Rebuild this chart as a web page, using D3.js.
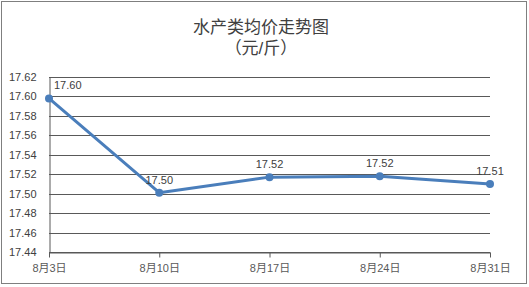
<!DOCTYPE html>
<html>
<head>
<meta charset="utf-8">
<script src="https://cdn.jsdelivr.net/npm/d3@7"></script>
<style>
body { margin: 0; background: #fff; }
text { font-family: "Liberation Sans", "Noto Sans CJK SC", sans-serif; }
</style>
</head>
<body>
<div id="chart"></div>
<script>
var width = 529;
var height = 287;

// 数据
var categories = ["8月3日", "8月10日", "8月17日", "8月24日", "8月31日"];
var values = [17.598, 17.501, 17.517, 17.518, 17.510];
var valueLabels = ["17.60", "17.50", "17.52", "17.52", "17.51"];
var yTicks = [17.44, 17.46, 17.48, 17.50, 17.52, 17.54, 17.56, 17.58, 17.60, 17.62];

var svg = d3.select("#chart").append("svg")
    .attr("width", width)
    .attr("height", height);

// 外框
svg.append("rect")
    .attr("x", 1.5).attr("y", 1.5)
    .attr("width", 525).attr("height", 282)
    .attr("fill", "#fff")
    .attr("stroke", "#7f7f7f")
    .attr("stroke-width", 1);

// 标题
svg.append("text")
    .attr("x", 261).attr("y", 33)
    .attr("text-anchor", "middle")
    .attr("font-size", 17)
    .attr("fill", "#404040")
    .text("水产类均价走势图");
svg.append("text")
    .attr("x", 261).attr("y", 54)
    .attr("text-anchor", "middle")
    .attr("font-size", 17)
    .attr("fill", "#404040")
    .text("（元/斤）");

var plot = { left: 49, right: 490, top: 77, bottom: 252 };

var xScale = d3.scalePoint().domain(categories).range([plot.left, plot.right]);
var yScale = d3.scaleLinear().domain([17.44, 17.62]).range([plot.bottom, plot.top]);

// 网格线
svg.append("g")
    .selectAll("line")
    .data(yTicks)
    .enter()
    .append("line")
    .attr("x1", plot.left).attr("x2", plot.right)
    .attr("y1", function (d) { return Math.round(yScale(d)) + 0.5; })
    .attr("y2", function (d) { return Math.round(yScale(d)) + 0.5; })
    .attr("stroke", "#595959")
    .attr("stroke-width", 1);

// y 轴
var yAxisGroup = svg.append("g")
    .attr("transform", "translate(" + (plot.left + 0.5) + ",0)")
    .call(d3.axisLeft(yScale).tickValues(yTicks).tickSize(0).tickPadding(13).tickFormat(d3.format(".2f")));
yAxisGroup.select(".domain").attr("stroke", "#595959");
yAxisGroup.selectAll("text")
    .attr("font-size", 11)
    .attr("fill", "#404040")
    .attr("font-family", "Liberation Sans, sans-serif");

// x 轴
var xAxisGroup = svg.append("g")
    .attr("transform", "translate(0," + (plot.bottom + 0.5) + ")")
    .call(d3.axisBottom(xScale).tickSize(5).tickPadding(7).tickSizeOuter(0));
xAxisGroup.select(".domain").attr("stroke", "#595959");
xAxisGroup.selectAll(".tick line").attr("stroke", "#595959");
xAxisGroup.selectAll("text")
    .attr("font-size", 11)
    .attr("fill", "#595959")
    .attr("font-family", "Liberation Sans, Noto Sans CJK SC, sans-serif");

// 折线
var line = d3.line()
    .x(function (d, i) { return xScale(categories[i]); })
    .y(function (d) { return yScale(d); });

svg.append("path")
    .datum(values)
    .attr("d", line)
    .attr("fill", "none")
    .attr("stroke", "#4a7ebb")
    .attr("stroke-width", 3)
    .attr("stroke-linejoin", "round");

svg.append("g")
    .selectAll("circle")
    .data(values)
    .enter()
    .append("circle")
    .attr("cx", function (d, i) { return xScale(categories[i]); })
    .attr("cy", function (d) { return yScale(d); })
    .attr("r", 4)
    .attr("fill", "#4a7ebb");

// 数据标签
svg.append("g")
    .selectAll("text")
    .data(values)
    .enter()
    .append("text")
    .attr("x", function (d, i) { return xScale(categories[i]) + (i === 0 ? 5 : 0); })
    .attr("y", function (d) { return yScale(d) - 9; })
    .attr("text-anchor", function (d, i) { return i === 0 ? "start" : "middle"; })
    .attr("font-size", 11)
    .attr("fill", "#404040")
    .text(function (d, i) { return valueLabels[i]; });
</script>
</body>
</html>
